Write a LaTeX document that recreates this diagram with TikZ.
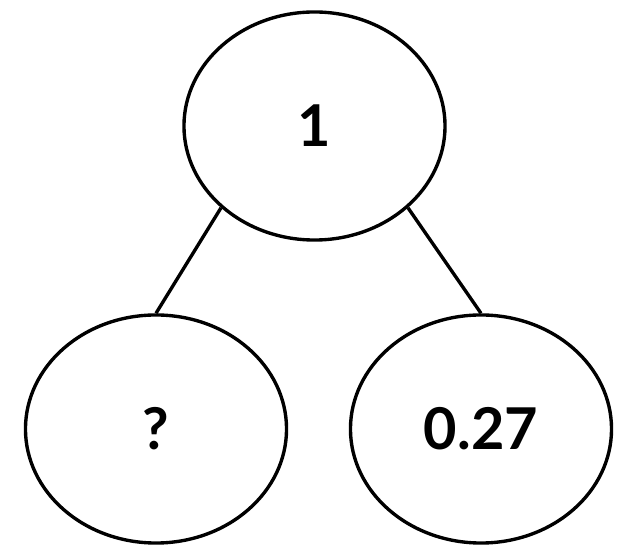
\documentclass[tikz,border=0pt]{standalone}
\usepackage{fontspec}
\setmainfont{Lato}
\usepackage{tikz}
\usetikzlibrary{shapes.geometric}

\begin{document}
\begin{tikzpicture}[
  x=0.025cm, y=-0.025cm,
  val/.style={ellipse, draw=black, line width=2.4pt, inner sep=0pt,
              minimum width=6.525cm, minimum height=5.7cm,
              font=\fontsize{41}{49}\selectfont\bfseries},
  edge/.style={line width=2.4pt, black}
]
\useasboundingbox (0,0) rectangle (640,556);

%% Root
\node[val] (root) at (314.5,126) {1};

%% Children
\node[val] (left)  at (156,429) {?};
\node[val] (right) at (481,429) {0.27};

%% Edges
\draw[edge] (root.south west) -- (left.north);
\draw[edge] (root.south east) -- (right.north);

\end{tikzpicture}
\end{document}
